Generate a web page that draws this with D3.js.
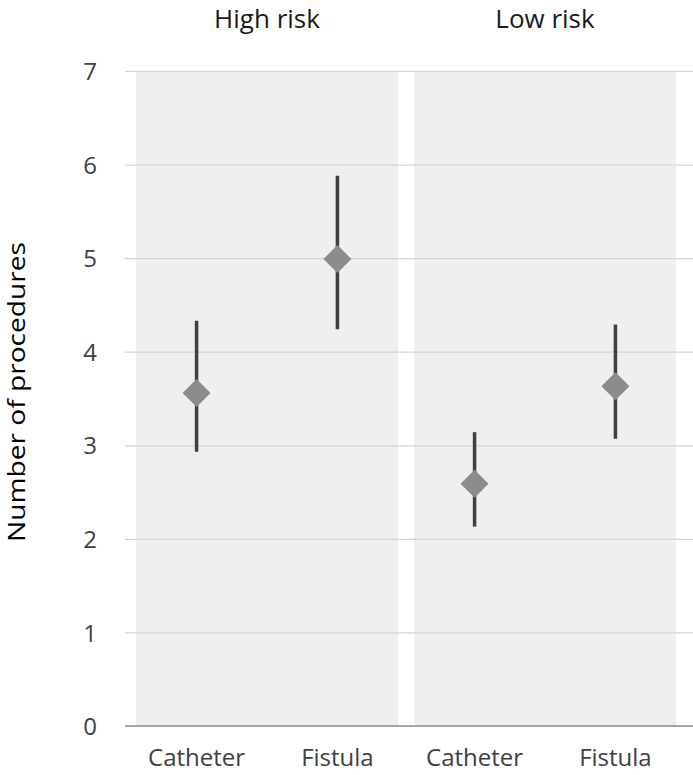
<!DOCTYPE html>
<html>
<head>
<meta charset="utf-8">
<script src="https://cdn.jsdelivr.net/npm/d3@7"></script>
<style>
  html,body{margin:0;padding:0;background:#fff;}
  svg{display:block;font-family:"Open Sans",sans-serif;}
</style>
</head>
<body>
<div id="chart"></div>
<script>
const groups=["High risk","Low risk"];
const access=["Catheter","Fistula"];
const means={"High risk":[3.56,4.99],"Low risk":[2.59,3.63]};
const lows ={"High risk":[2.93,4.24],"Low risk":[2.13,3.07]};
const highs={"High risk":[4.33,5.88],"Low risk":[3.14,4.29]};
const yTicks=[0,1,2,3,4,5,6,7];

(function(){
  const W=693,H=775;
  const svg=d3.select("#chart").append("svg").attr("width",W).attr("height",H);
  const y=d3.scaleLinear().domain([0,7]).range([726,71]);
  const fx=d3.scaleBand().domain(groups).range([136,676]).paddingInner(0.0576).paddingOuter(0);
  const ix=d3.scalePoint().domain(access).range([0,fx.bandwidth()]).padding(0.43);

  // panel backgrounds
  svg.selectAll("rect.panel").data(groups).join("rect").attr("class","panel")
    .attr("x",d=>fx(d)).attr("y",y(7)).attr("width",fx.bandwidth()).attr("height",y(0)-y(7))
    .attr("fill","#efefef");

  // gridlines + tick labels
  const ax=svg.append("g").attr("transform","translate(125,0)")
    .call(d3.axisLeft(y).tickValues(yTicks).tickSize(-(W-125)).tickPadding(28).tickFormat(d3.format("d")));
  ax.select(".domain").remove();
  ax.selectAll("line").attr("stroke","#d4d4d4").attr("stroke-width",1.2);
  ax.selectAll("text").attr("fill","#404040").attr("font-size",24).attr("font-family","Open Sans")
    .attr("dy","0.36em");
  // baseline
  svg.append("line").attr("x1",125).attr("x2",W).attr("y1",y(0)).attr("y2",y(0))
    .attr("stroke","#a6a6a6").attr("stroke-width",2);

  // panel titles
  svg.selectAll("text.ptitle").data(groups).join("text").attr("class","ptitle")
    .attr("x",d=>fx(d)+fx.bandwidth()/2).attr("y",28).attr("text-anchor","middle")
    .attr("font-size",26).attr("fill","#1a1a1a").text(d=>d);

  // category labels
  groups.forEach(g=>{
    svg.selectAll(null).data(access).join("text")
      .attr("x",d=>fx(g)+ix(d)).attr("y",766).attr("text-anchor","middle")
      .attr("font-size",24).attr("fill","#404040").text(d=>d);
  });

  // error bars and diamonds
  groups.forEach(g=>{
    const pts=access.map((a,i)=>({a,m:means[g][i],lo:lows[g][i],hi:highs[g][i]}));
    const gg=svg.append("g");
    gg.selectAll("line").data(pts).join("line")
      .attr("x1",d=>fx(g)+ix(d.a)).attr("x2",d=>fx(g)+ix(d.a))
      .attr("y1",d=>y(d.lo)).attr("y2",d=>y(d.hi))
      .attr("stroke","#404040").attr("stroke-width",3.5);
    gg.selectAll("path").data(pts).join("path")
      .attr("transform",d=>`translate(${fx(g)+ix(d.a)},${y(d.m)})`)
      .attr("d","M0,-14L14,0L0,14L-14,0Z").attr("fill","#8c8c8c");
  });

  // y axis title
  svg.append("text").attr("transform","translate(25,392) rotate(-90)")
    .attr("text-anchor","middle").attr("font-size",23).attr("fill","#000")
    .attr("textLength",300).attr("lengthAdjust","spacingAndGlyphs")
    .text("Number of procedures");
})();
</script>
</body>
</html>
